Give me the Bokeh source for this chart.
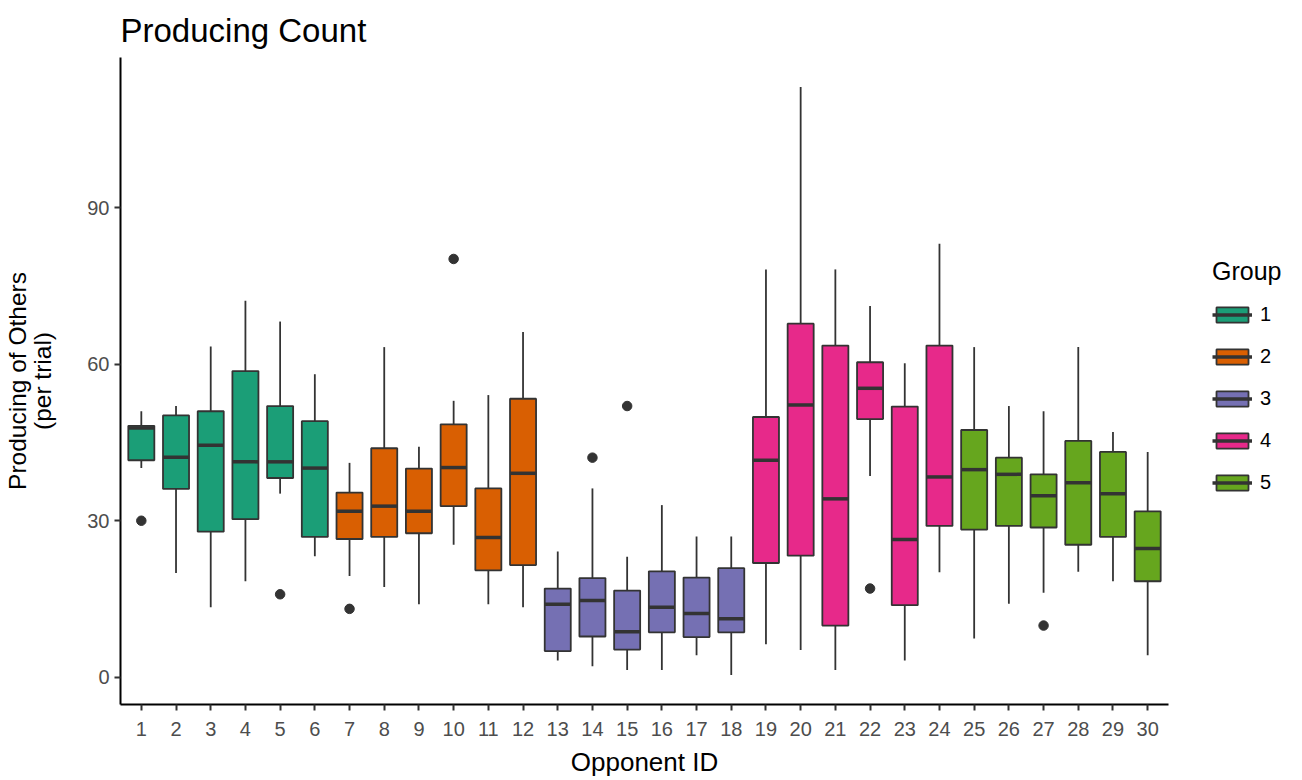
from bokeh.plotting import figure
from bokeh.models import (ColumnDataSource, FixedTicker, Legend, LegendItem, Range1d)
from bokeh.embed import file_html
from bokeh.resources import INLINE

# Box-plot summaries of producing count per opponent
opponent = list(range(1, 31))
group = [1] * 6 + [2] * 6 + [3] * 6 + [4] * 6 + [5] * 6

whisker_low = [40.1, 20.0, 13.4, 18.4, 35.2, 23.2,
               19.4, 17.3, 14.0, 25.4, 14.0, 13.4,
               3.2, 2.1, 1.4, 1.4, 4.2, 0.4,
               6.3, 5.2, 1.4, 38.6, 3.2, 20.1,
               7.4, 14.1, 16.2, 20.2, 18.4, 4.2]
q1 = [41.6, 36.1, 27.9, 30.3, 38.2, 26.9,
      26.5, 26.9, 27.6, 32.8, 20.5, 21.5,
      5.0, 7.8, 5.3, 8.6, 7.7, 8.6,
      21.9, 23.3, 9.9, 49.5, 13.8, 29.0,
      28.3, 29.0, 28.7, 25.4, 26.9, 18.4]
median = [47.8, 42.2, 44.5, 41.3, 41.3, 40.1,
          31.8, 32.8, 31.8, 40.2, 26.8, 39.1,
          14.0, 14.7, 8.7, 13.4, 12.2, 11.2,
          41.6, 52.2, 34.2, 55.4, 26.4, 38.4,
          39.8, 38.9, 34.8, 37.3, 35.2, 24.7]
q3 = [48.2, 50.2, 51.0, 58.7, 52.0, 49.1,
      35.4, 43.9, 40.0, 48.5, 36.2, 53.4,
      17.0, 19.0, 16.6, 20.3, 19.1, 20.9,
      49.9, 67.8, 63.6, 60.4, 51.9, 63.6,
      47.4, 42.1, 38.9, 45.3, 43.2, 31.8]
whisker_high = [51.0, 52.0, 63.4, 72.2, 68.2, 58.1,
                41.1, 63.3, 44.2, 53.0, 54.1, 66.2,
                24.1, 36.2, 23.1, 33.0, 27.0, 27.0,
                78.2, 113.2, 78.2, 71.2, 60.2, 83.1,
                63.3, 52.0, 51.0, 63.3, 47.0, 43.2]

outlier_opponent = [1, 5, 7, 10, 14, 15, 22, 27]
outlier_value = [30.0, 15.9, 13.1, 80.2, 42.1, 52.0, 17.0, 9.9]

group_labels = ["1", "2", "3", "4", "5"]
group_colors = ["#1B9E77", "#D95F02", "#7570B3", "#E7298A", "#66A61E"]

y_ticks = [0, 30, 60, 90]

FONT = "Liberation Sans"
EDGE = "#333333"
BOX_W = 0.75

p = figure(frame_width=1048, frame_height=647,
           output_backend="svg", toolbar_location=None,
           x_range=Range1d(0.4, 30.6), y_range=Range1d(-5.24, 118.84),
           min_border_left=120, min_border_right=134,
           min_border_top=57, min_border_bottom=76,
           title="Producing Count")

p.title.text_font = FONT
p.title.text_font_size = "33px"
p.title.text_font_style = "normal"
p.title.text_color = "#000000"
p.title.align = "left"
p.title.vertical_align = "top"
p.title.standoff = 14

p.grid.visible = False
p.outline_line_color = None
p.background_fill_color = "white"
p.border_fill_color = "white"

src = ColumnDataSource(dict(x=opponent, lo=whisker_low, q1=q1, med=median,
                            q3=q3, hi=whisker_high))

# whiskers
p.segment(x0="x", y0="q3", x1="x", y1="hi", source=src, line_color=EDGE, line_width=1.8)
p.segment(x0="x", y0="lo", x1="x", y1="q1", source=src, line_color=EDGE, line_width=1.8)

legend_items = []
for gi, (lab, col) in enumerate(zip(group_labels, group_colors)):
    idx = [i for i, g in enumerate(group) if g == gi + 1]
    gsrc = ColumnDataSource(dict(x=[opponent[i] for i in idx],
                                 q1=[q1[i] for i in idx],
                                 q3=[q3[i] for i in idx],
                                 med=[median[i] for i in idx],
                                 left=[opponent[i] - BOX_W / 2 for i in idx],
                                 right=[opponent[i] + BOX_W / 2 for i in idx]))
    box = p.vbar(x="x", width=BOX_W, bottom="q1", top="q3", source=gsrc,
                 fill_color=col, line_color=EDGE, line_width=1.8)
    med = p.segment(x0="left", y0="med", x1="right", y1="med", source=gsrc,
                    line_color=EDGE, line_width=3.5)
    legend_items.append(LegendItem(label=lab, renderers=[box, med]))

p.scatter(outlier_opponent, outlier_value, size=9.5, fill_color=EDGE,
          line_color=EDGE)

# axes
for ax in (p.xaxis[0], p.yaxis[0]):
    ax.axis_line_color = "#000000"
    ax.axis_line_width = 2
    ax.major_tick_line_color = EDGE
    ax.major_tick_line_width = 2
    ax.major_tick_out = 6
    ax.major_tick_in = 0
    ax.minor_tick_line_color = None
    ax.major_label_text_font = FONT
    ax.major_label_text_font_size = "20px"
    ax.major_label_text_color = "#4D4D4D"
    ax.axis_label_text_font = FONT
    ax.axis_label_text_font_style = "normal"
    ax.axis_label_text_color = "#000000"

p.xaxis.axis_label_text_font_size = "26px"
p.yaxis.axis_label_text_font_size = "24.5px"
p.yaxis.axis_label_text_line_height = 0.95

p.xaxis.ticker = FixedTicker(ticks=opponent)
p.yaxis.ticker = FixedTicker(ticks=y_ticks)
p.xaxis.axis_label = "Opponent ID"
p.yaxis.axis_label = "Producing of Others\n(per trial)"
p.xaxis.major_label_standoff = 11
p.yaxis.major_label_standoff = 5
p.xaxis.axis_label_standoff = 8
p.yaxis.axis_label_standoff = 28

legend = Legend(items=legend_items, location=(44, 210), title="Group",
                title_text_font=FONT, title_text_font_size="25px",
                title_text_font_style="normal",
                title_text_color="#000000", title_standoff=17,
                label_text_font=FONT, label_text_font_size="20px",
                label_text_color="#000000",
                glyph_width=40, glyph_height=19, label_standoff=8,
                spacing=19, padding=0, margin=0,
                border_line_color=None, background_fill_alpha=0)
p.add_layout(legend, "right")

open("out.html", "w").write(file_html(p, INLINE))
